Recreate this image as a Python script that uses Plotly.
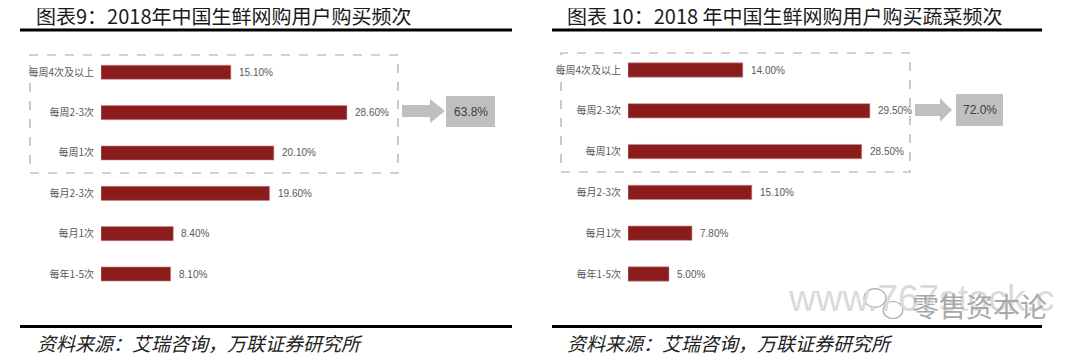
import plotly.graph_objects as go

# ---- data ----
categories = ["每周4次及以上", "每周2-3次", "每周1次", "每月2-3次", "每月1次", "每年1-5次"]
freq_all = [15.1, 28.6, 20.1, 19.6, 8.4, 8.1]
freq_veg = [14.0, 29.5, 28.5, 15.1, 7.8, 5.0]
summary_labels = ["63.8%", "72.0%"]
titles = ["图表9：2018年中国生鲜网购用户购买频次", "图表 10：2018 年中国生鲜网购用户购买蔬菜频次"]
source_text = "资料来源：艾瑞咨询，万联证券研究所"

# the page body has an 8px default margin, so the figure is drawn 8px in
OFF = 8
W, H = 1080 - OFF, 363 - OFF
BAR = "#8B1C1C"
GREY_TXT = "#595959"
CJK = "Noto Sans CJK SC"


def px(x):
    return (x - OFF) / W


def py(y):
    return 1 - (y - OFF) / H


fig = go.Figure()

panels = [
    dict(vals=freq_all, xa="x", ya="y"),
    dict(vals=freq_veg, xa="x2", ya="y2"),
]

for p in panels:
    fig.add_trace(go.Bar(
        x=p["vals"], y=categories, orientation="h",
        marker=dict(color=BAR, line=dict(color="#C98C8C", width=0.6)),
        width=0.35, xaxis=p["xa"], yaxis=p["ya"], hoverinfo="skip",
        showlegend=False,
    ))

annotations = []
for p in panels:
    for c, v in zip(categories, p["vals"]):
        annotations.append(dict(
            x=v, y=c, xref=p["xa"], yref=p["ya"], text=f"{v:.2f}%",
            showarrow=False, xanchor="left", yanchor="middle", xshift=6,
            font=dict(family="Liberation Sans, Arial", size=10, color=GREY_TXT),
        ))

axis_common_x = dict(range=[0, 40], showgrid=False, zeroline=False, showline=False,
                     showticklabels=False, ticks="", fixedrange=True)
axis_common_y = dict(type="category", categoryorder="array", categoryarray=categories,
                     range=[5.5, -0.5], showgrid=False, zeroline=False, showline=False,
                     ticks="outside", ticklen=4, tickcolor="rgba(0,0,0,0)",
                     tickfont=dict(family=CJK, size=10, color=GREY_TXT), fixedrange=True)

layout = dict(
    width=W, height=H,
    margin=dict(l=0, r=0, t=0, b=0),
    paper_bgcolor="white", plot_bgcolor="white",
)
layout["xaxis"] = dict(axis_common_x, domain=[px(101), px(445)], anchor="y")
layout["yaxis"] = dict(axis_common_y, domain=[py(294.2), py(52.1)], anchor="x")
layout["xaxis2"] = dict(axis_common_x, domain=[px(628), px(956)], anchor="y2")
layout["yaxis2"] = dict(axis_common_y, domain=[py(294.4), py(49.6)], anchor="x2")
fig.update_layout(**layout)

shapes = []
# header / footer rules
for x0, x1 in [(20, 512), (552, 1042)]:
    for yy in (30, 326.5):
        shapes.append(dict(type="line", xref="paper", yref="paper",
                           x0=px(x0), x1=px(x1), y0=py(yy), y1=py(yy),
                           line=dict(color="black", width=3)))
# dashed grouping boxes
for (x0, x1, y0, y1) in [(30, 398, 55, 173), (561, 910, 53, 172)]:
    shapes.append(dict(type="rect", xref="paper", yref="paper",
                       x0=px(x0), x1=px(x1), y0=py(y1), y1=py(y0),
                       line=dict(color="#A6A6A6", width=1.2, dash="dash"),
                       fillcolor="rgba(0,0,0,0)"))


def arrow_path(xb, xh, xt, yc, hb, hh):
    pts = [(xb, yc - hb), (xh, yc - hb), (xh, yc - hh), (xt, yc),
           (xh, yc + hh), (xh, yc + hb), (xb, yc + hb)]
    return "M " + " L ".join(f"{px(a):.5f},{py(b):.5f}" for a, b in pts) + " Z"


for (xb, xh, xt, yc) in [(402, 430, 445, 111), (915, 940, 952, 110)]:
    shapes.append(dict(type="path", xref="paper", yref="paper",
                       path=arrow_path(xb, xh, xt, yc, 6, 12),
                       fillcolor="#BFBFBF", line=dict(width=0)))

boxes = [(446, 495, 96, 127), (956, 1003, 94, 126)]
for (x0, x1, y0, y1), lab in zip(boxes, summary_labels):
    shapes.append(dict(type="rect", xref="paper", yref="paper",
                       x0=px(x0), x1=px(x1), y0=py(y1), y1=py(y0),
                       fillcolor="#BFBFBF", line=dict(width=0)))
    annotations.append(dict(x=px((x0 + x1) / 2), y=py((y0 + y1) / 2), xref="paper", yref="paper",
                            text=lab, showarrow=False, xanchor="center", yanchor="middle",
                            font=dict(family="Liberation Sans, Arial", size=12, color="#404040")))

# titles and sources
for xt, t in [(34, titles[0]), (565, titles[1])]:
    annotations.append(dict(x=px(xt), y=py(16), xref="paper", yref="paper", text=t,
                            showarrow=False, xanchor="left", yanchor="middle",
                            font=dict(family=CJK, size=20, color="#1a1a1a")))
for xs in (35, 565):
    annotations.append(dict(x=px(xs), y=py(342), xref="paper", yref="paper",
                            text=f"<i>{source_text}</i>",
                            showarrow=False, xanchor="left", yanchor="middle",
                            font=dict(family=CJK, size=19, color="#222222")))

# watermark
annotations.append(dict(x=px(786), y=py(298), xref="paper", yref="paper", text="www.767stock.c",
                        showarrow=False, xanchor="left", yanchor="middle",
                        font=dict(family="Liberation Sans, Arial", size=37, color="#DADADA")))
annotations.append(dict(x=px(910), y=py(305), xref="paper", yref="paper", text="零售资本论",
                        showarrow=False, xanchor="left", yanchor="middle",
                        font=dict(family=CJK, size=27, color="#A8A8A8")))
for (cx, cy, r) in [(875, 298, 11), (893, 310, 10)]:
    shapes.append(dict(type="circle", xref="paper", yref="paper",
                       x0=px(cx - r), x1=px(cx + r), y0=py(cy + r * 0.85), y1=py(cy - r * 0.85),
                       fillcolor="white", line=dict(color="#A8A8A8", width=1.2)))

fig.update_layout(shapes=shapes, annotations=annotations)
fig.write_html("out.html")
